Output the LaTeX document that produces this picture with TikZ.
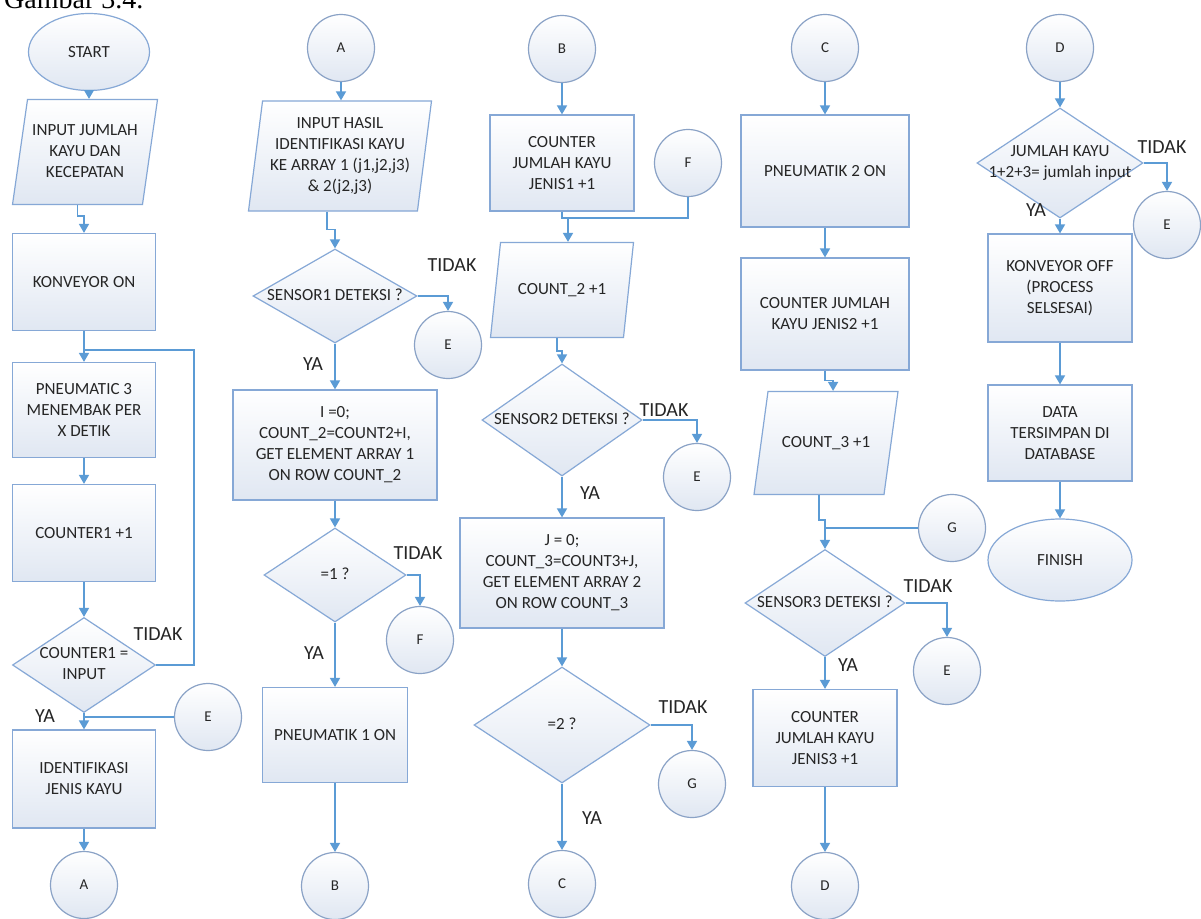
\documentclass[tikz,border=0pt]{standalone}
\usepackage{fontspec}
\setmainfont{Carlito}
\newfontfamily\capfont{Liberation Serif}
\usetikzlibrary{shapes.geometric, arrows.meta}

\definecolor{boxline}{HTML}{86A8D6}
\definecolor{circline}{HTML}{8AA2C6}
\definecolor{flowline}{HTML}{5B9BD5}
\definecolor{boxfill}{HTML}{E0E7F2}
\definecolor{txtcol}{HTML}{262626}

% text that may run past the edge of a diamond or a parallelogram
\newcommand{\dtxt}[1]{\makebox[0pt]{\begin{tabular}{@{}c@{}}#1\end{tabular}}}

\begin{document}
\begin{tikzpicture}[x=1pt, y=-1pt,
  base/.style={draw=boxline, line width=1.2pt, top color=white, bottom color=boxfill,
    text=txtcol, font=\fontsize{17}{21}\selectfont, align=center, inner sep=0pt},
  term/.style={base, ellipse},
  procbox/.style={base, rectangle},
  iobox/.style={base, trapezium, trapezium stretches body},
  decision/.style={base, diamond},
  conn/.style={base, circle, draw=circline, minimum size=67, font=\fontsize{15}{18}\selectfont},
  lbl/.style={text=txtcol, font=\fontsize{20}{24}\selectfont, inner sep=0pt},
  flow/.style={draw=flowline, line width=1.6pt},
  arr/.style={flow, -{Triangle[length=9pt, width=10pt]}}
]
\fill[white] (0,0) rectangle (1201,918);
\useasboundingbox (0,0) rectangle (1201,918);

\node[font=\capfont\fontsize{28}{30}\selectfont, anchor=base west, inner sep=0pt] (cap) at (4,9) {Gambar 3.4.};

% column 1
\node[term, minimum width=121, minimum height=77] (start) at (89,52) {START};
\node[iobox, trapezium left angle=76.6, trapezium right angle=103.4, minimum width=145, minimum height=105] (in1) at (85,152) {\dtxt{INPUT JUMLAH\\KAYU DAN\\KECEPATAN}};
\node[procbox, minimum width=143, minimum height=97] (conv) at (84,282) {KONVEYOR ON};
\node[procbox, minimum width=143, minimum height=95] (pn3) at (84,410) {PNEUMATIC 3\\MENEMBAK PER\\X DETIK};
\node[procbox, minimum width=143, minimum height=97] (cnt1) at (84,533) {COUNTER1 +1};
\node[decision, minimum width=143, minimum height=95] (dec1) at (84,665) {\dtxt{COUNTER1 =\\INPUT}};
\node[procbox, minimum width=143, minimum height=98] (iden) at (84,779) {IDENTIFIKASI\\JENIS KAYU};
\node[conn] (A1) at (84,885) {A};
\node[conn] (E1) at (208,717) {E};
\node[lbl] (t1) at (158,634) {TIDAK};
\node[lbl] (y1) at (45,716) {YA};
\coordinate (j1) at (84,350);
\coordinate (j2) at (84,717);

\draw[arr] (start.south) -- (start.south |- in1.north);
\draw[arr] (in1.bottom side) -- ++(0,11) -| (conv.north);
\draw[arr] (conv.south) -- (pn3.north);
\draw[flow] (dec1.east) -- ++(38,0) |- (j1);
\draw[arr] (pn3.south) -- (cnt1.north);
\draw[arr] (cnt1.south) -- (dec1.north);
\draw[arr] (dec1.south) -- (iden.north);
\draw[flow] (E1.west) -- (j2);
\draw[arr] (iden.south) -- (A1.north);

% column 2
\node[conn] (A2) at (341,48) {A};
\node[iobox, trapezium left angle=80.5, trapezium right angle=99.5, minimum width=183, minimum height=110] (in2) at (340,156) {\dtxt{INPUT HASIL\\IDENTIFIKASI KAYU\\KE ARRAY 1 (j1,j2,j3)\\\& 2(j2,j3)}};
\node[decision, minimum width=164, minimum height=94] (s1) at (335,296) {\dtxt{SENSOR1 DETEKSI ?}};
\node[conn] (E2) at (448,345) {E};
\node[lbl] (t2) at (452,265) {TIDAK};
\node[lbl] (y2) at (313,364) {YA};
\node[procbox, minimum width=204, minimum height=110] (ar1) at (335,445) {I =0;\\COUNT\_2=COUNT2+I,\\GET ELEMENT ARRAY 1\\ON ROW COUNT\_2};
\node[decision, minimum width=142, minimum height=94] (d1) at (335,575) {\dtxt{=1 ?}};
\node[conn] (F1) at (420,640) {F};
\node[lbl] (t3) at (418,553) {TIDAK};
\node[lbl] (y3) at (314,653) {YA};
\node[procbox, minimum width=145, minimum height=95] (pn1) at (335,735) {PNEUMATIK 1 ON};
\node[conn] (B1) at (335,886) {B};

\draw[arr] (A2.south) -- (A2.south |- in2.north);
\draw[arr] ([xshift=-6pt]in2.bottom side) -- ++(0,18) -| (s1.north);
\draw[arr] (s1.east) -| (E2.north);
\draw[arr] (s1.south) -- (ar1.north);
\draw[arr] (ar1.south) -- (d1.north);
\draw[arr] (d1.east) -| (F1.north);
\draw[arr] (d1.south) -- (pn1.north);
\draw[arr] (pn1.south) -- (B1.north);

% column 3
\node[conn] (B2) at (562,49) {B};
\node[procbox, minimum width=144, minimum height=96] (cj1) at (562,163) {COUNTER\\JUMLAH KAYU\\JENIS1 +1};
\node[conn] (F2) at (688,163) {F};
\node[iobox, trapezium left angle=64.5, trapezium right angle=115.5, minimum width=143, minimum height=95] (in3) at (562,290) {\dtxt{COUNT\_2 +1}};
\coordinate (m3) at (568,218);
\node[decision, minimum width=160, minimum height=112] (s2) at (562,420) {\dtxt{SENSOR2 DETEKSI ?}};
\node[conn] (E3) at (697,477) {E};
\node[lbl] (t4) at (664,410) {TIDAK};
\node[lbl] (y4) at (590,493) {YA};
\node[procbox, minimum width=204, minimum height=110] (ar2) at (562,573) {J = 0;\\COUNT\_3=COUNT3+J,\\GET ELEMENT ARRAY 2\\ON ROW COUNT\_3};
\node[decision, minimum width=176, minimum height=116] (d2) at (562,725) {\dtxt{=2 ?}};
\node[conn] (G1) at (692,784) {G};
\node[lbl] (t5) at (683,707) {TIDAK};
\node[lbl] (y5) at (592,818) {YA};
\node[conn] (C1) at (562,884) {C};

\draw[arr] (B2.south) -- (cj1.north);
\draw[flow] (cj1.south) |- (m3);
\draw[flow] (F2.south) |- (m3);
\draw[arr] (m3) -- (m3 |- in3.north);
\draw[arr] (in3.bottom side) -- ++(0,13) -| (s2.north);
\draw[arr] (s2.east) -| (E3.north);
\draw[arr] (s2.south) -- (ar2.north);
\draw[arr] (ar2.south) -- (d2.north);
\draw[arr] (d2.east) -| (G1.north);
\draw[arr] (d2.south) -- (C1.north);

% column 4
\node[conn] (C2) at (825,48) {C};
\node[procbox, minimum width=168, minimum height=112] (pn2) at (825,171) {PNEUMATIK 2 ON};
\node[procbox, minimum width=168, minimum height=112] (cj2) at (825,314) {COUNTER JUMLAH\\KAYU JENIS2 +1};
\node[iobox, trapezium left angle=56.3, trapezium right angle=123.7, minimum width=144, minimum height=103] (in4) at (826,443) {\dtxt{COUNT\_3 +1}};
\node[conn] (G2) at (952,528) {G};
\coordinate (m4) at (825,528);
\node[decision, minimum width=160, minimum height=107] (s3) at (825,603) {\dtxt{SENSOR3 DETEKSI ?}};
\node[conn] (E4) at (947,671) {E};
\node[lbl] (t6) at (928,586) {TIDAK};
\node[lbl] (y6) at (848,665) {YA};
\node[procbox, minimum width=144, minimum height=97] (cj3) at (825,738) {COUNTER\\JUMLAH KAYU\\JENIS3 +1};
\node[conn] (D1) at (825,886) {D};

\draw[arr] (C2.south) -- (pn2.north);
\draw[arr] (pn2.south) -- (cj2.north);
\draw[arr] (cj2.south) -- ++(0,10) -| (in4.top side);
\draw[flow] (in4.bottom side) -- ++(0,25) -| (m4);
\draw[flow] (G2.west) -- (m4);
\draw[arr] (m4) -- (s3.north);
\draw[arr] (s3.east) -| (E4.north);
\draw[arr] (s3.south) -- (cj3.north);
\draw[arr] (cj3.south) -- (D1.north);

% column 5
\node[conn] (D2) at (1060,48) {D};
\node[decision, minimum width=166, minimum height=110] (tot) at (1060,163) {\dtxt{JUMLAH KAYU\\1+2+3= jumlah input}};
\node[conn] (E5) at (1167,225) {E};
\node[lbl] (t7) at (1162,147) {TIDAK};
\node[lbl] (y7) at (1036,210) {YA};
\node[procbox, minimum width=144, minimum height=108] (off) at (1060,288) {KONVEYOR OFF\\(PROCESS\\SELSESAI)};
\node[procbox, minimum width=144, minimum height=96] (db) at (1060,433) {DATA\\TERSIMPAN DI\\DATABASE};
\node[term, minimum width=144, minimum height=82] (fin) at (1060,560) {FINISH};

\draw[arr] (D2.south) -- (tot.north);
\draw[arr] (tot.east) -| (E5.north);
\draw[arr] (tot.south) -- (off.north);
\draw[arr] (off.south) -- (db.north);
\draw[arr] (db.south) -- (fin.north);
\end{tikzpicture}
\end{document}
